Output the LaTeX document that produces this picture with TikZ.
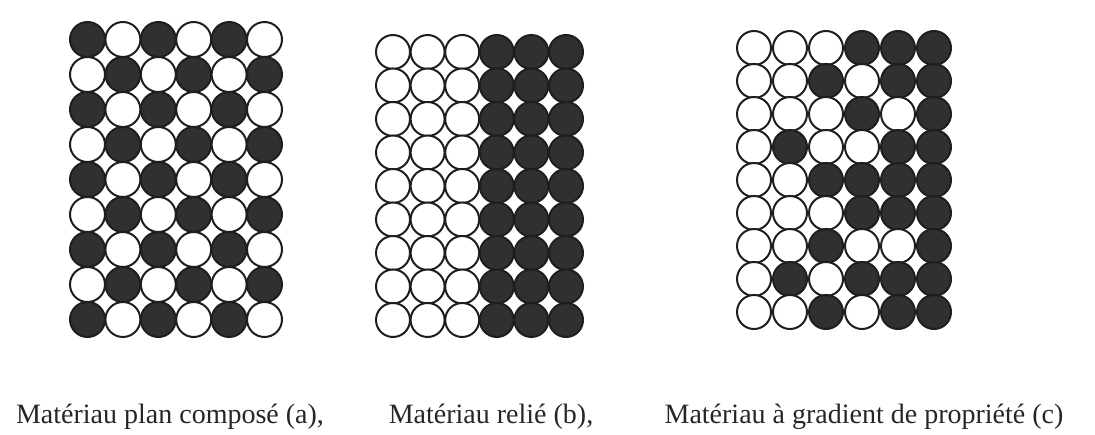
\documentclass[tikz,border=0pt]{standalone}
\usepackage{fontspec}
\setmainfont{Liberation Serif}
\usetikzlibrary{positioning}
\definecolor{inkdark}{RGB}{48,48,48}
\definecolor{rimdark}{RGB}{30,30,30}
\tikzset{
  grain/.style={circle, draw=rimdark, line width=2pt, inner sep=0pt},
  caption/.style={font=\fontsize{28}{30}\selectfont, anchor=base, inner sep=0pt, color=black!85}
}

\begin{document}
\begin{tikzpicture}[x=1pt, y=-1pt]
  \useasboundingbox (0,0) rectangle (1095,435);

  % (a) Plan composite: checkerboard
  \foreach \r in {1,...,9}{
    \foreach \c in {1,...,6}{
      \pgfmathtruncatemacro{\k}{mod(\r+\c,2)}
      \ifnum\k=0 \def\tone{inkdark}\else\def\tone{white}\fi
      \node[grain, fill=\tone, minimum size=35pt] (a-\r-\c) at ({87.5+(\c-1)*35.4},{39.5+(\r-1)*35}) {};
    }
  }

  % (b) Joined: white half, black half
  \foreach \r in {1,...,9}{
    \foreach \c in {1,...,6}{
      \ifnum\c>3 \def\tone{inkdark}\else\def\tone{white}\fi
      \node[grain, fill=\tone, minimum size=34pt] (b-\r-\c) at ({393+(\c-1)*34.6},{52+(\r-1)*33.5}) {};
    }
  }

  % (c) Graded: 1 = black grain
  \foreach \r/\row in {1/{0,0,0,1,1,1}, 2/{0,0,1,0,1,1}, 3/{0,0,0,1,0,1},
                       4/{0,1,0,0,1,1}, 5/{0,0,1,1,1,1}, 6/{0,0,0,1,1,1},
                       7/{0,0,1,0,0,1}, 8/{0,1,0,1,1,1}, 9/{0,0,1,0,1,1}}{
    \foreach \v [count=\c] in \row {
      \ifnum\v=1 \def\tone{inkdark}\else\def\tone{white}\fi
      \node[grain, fill=\tone, minimum size=34pt] (c-\r-\c) at ({754+(\c-1)*36},{48+(\r-1)*33}) {};
    }
  }

  % Captions
  \node[caption] (capa) at (170,424) {Matériau plan composé (a),};
  \node[caption] (capb) at (491,424) {Matériau relié (b),};
  \node[caption] (capc) at (864,424) {Matériau à gradient de propriété (c)};
\end{tikzpicture}
\end{document}
